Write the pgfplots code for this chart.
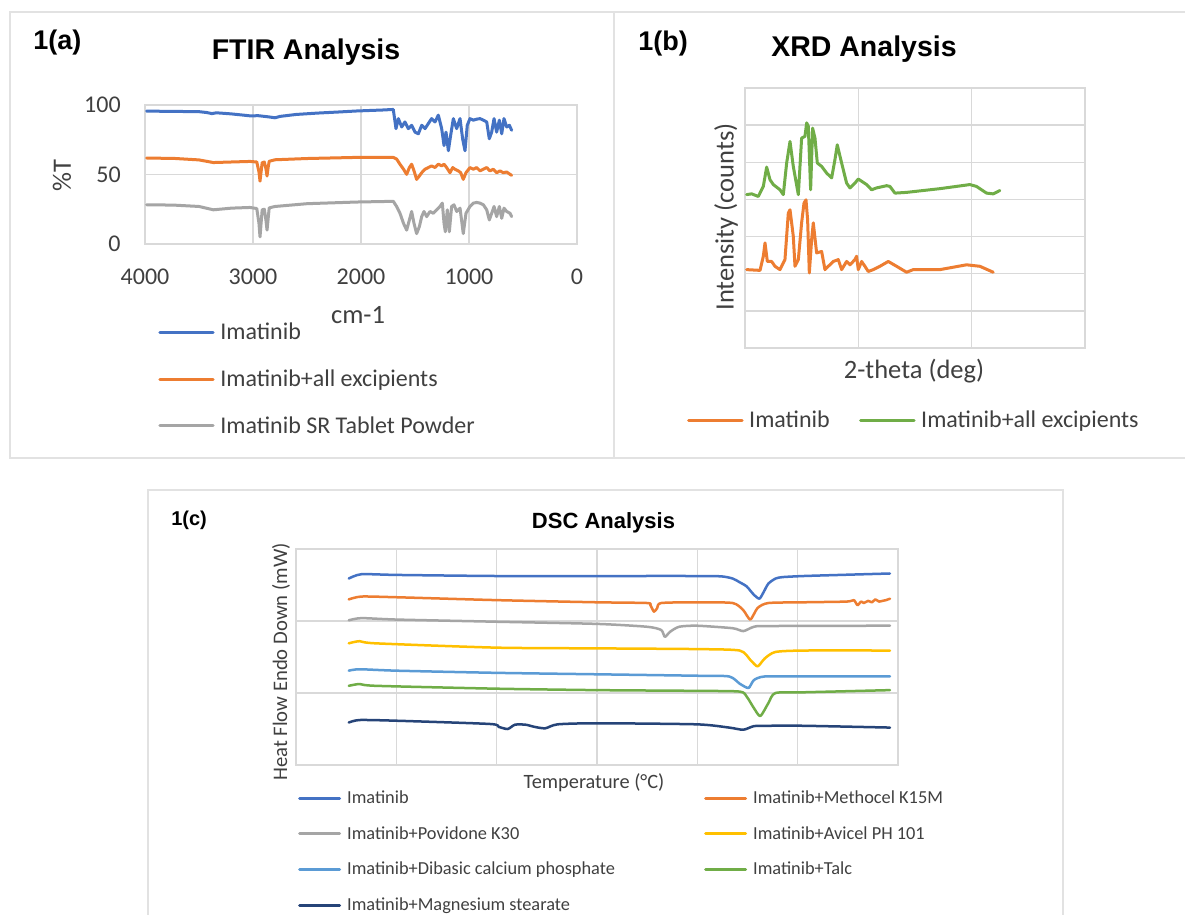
\documentclass[border=0pt]{standalone}
\usepackage{pgfplots}
\pgfplotsset{compat=1.18}
\usepackage{fontspec}
\setmainfont{Carlito}
\newfontfamily\arialf{Liberation Sans}
\definecolor{cblue}{HTML}{4472C4}
\definecolor{corange}{HTML}{ED7D31}
\definecolor{cgray}{HTML}{A5A5A5}
\definecolor{cyellow}{HTML}{FFC000}
\definecolor{clblue}{HTML}{5B9BD5}
\definecolor{cgreen}{HTML}{70AD47}
\definecolor{cnavy}{HTML}{264478}
\definecolor{gridc}{HTML}{D9D9D9}
\definecolor{borderc}{HTML}{E2E2E2}
\definecolor{txt}{HTML}{404040}
\pgfplotsset{
  excelaxis/.style={
    scale only axis, anchor=south west,
    grid=major, major tick length=0pt,
    grid style={draw=gridc, line width=0.9pt},
    axis line style={draw=gridc, line width=0.9pt},
    /pgf/number format/assume math mode=true,
    /pgf/number format/1000 sep={},
    legend cell align=left,
  },
}
\begin{document}
\begin{tikzpicture}
\path[use as bounding box] (0pt,0pt) rectangle (711pt,-548.4pt);
\begin{scope}[x=0.6pt,y=-0.6pt]
\fill[white] (0,0) rectangle (1185,914);
\draw[borderc, line width=1.4pt] (10,12) rectangle (614,458);
\draw[borderc, line width=1.4pt] (614,12) -- (1200,12);
\draw[borderc, line width=1.4pt] (614,458) -- (1200,458);
\draw[borderc, line width=1.4pt] (148,930) -- (148,490) -- (1063,490) -- (1063,930);
% titles
\node[anchor=base west, inner sep=0pt] at (33,49.5) {\arialf\bfseries\fontsize{16.2}{18}\selectfont 1(a)};
\node[anchor=base, inner sep=0pt] at (306,60) {\arialf\bfseries\fontsize{17.1}{19}\selectfont FTIR Analysis};
\node[anchor=base west, inner sep=0pt] at (638,50) {\arialf\bfseries\fontsize{16.2}{18}\selectfont 1(b)};
\node[anchor=base, inner sep=0pt] at (864,56.7) {\arialf\bfseries\fontsize{17.1}{19}\selectfont XRD Analysis};
\node[anchor=base west, inner sep=0pt] at (171,525) {\arialf\bfseries\fontsize{12}{14}\selectfont 1(c)};
\node[anchor=base, inner sep=0pt] at (603.5,528) {\arialf\bfseries\fontsize{13.2}{15}\selectfont DSC Analysis};
% axis titles
\node[anchor=base, inner sep=0pt, text=txt] at (358,323) {\fontsize{15.9}{18}\selectfont cm-1};
\node[rotate=90, inner sep=0pt, text=txt] at (62,176) {\fontsize{15.9}{18}\selectfont \%T};
\node[anchor=base, inner sep=0pt, text=txt] at (914,378) {\fontsize{15.9}{18}\selectfont 2-theta (deg)};
\node[rotate=90, inner sep=0pt, text=txt] at (726,217) {\fontsize{15.9}{18}\selectfont Intensity (counts)};
\node[anchor=base, inner sep=0pt, text=txt] at (594,788) {\fontsize{12.2}{14}\selectfont Temperature (°C)};
\node[rotate=90, inner sep=0pt, text=txt] at (281,662) {\fontsize{12.4}{14}\selectfont Heat Flow Endo Down (mW)};
\end{scope}

% ---------------- FTIR ----------------
\begin{axis}[excelaxis,
  at={(87pt,-146.4pt)}, width=259.2pt, height=83.4pt,
  xmin=0, xmax=4000, ymin=0, ymax=100, x dir=reverse,
  xtick={0,1000,2000,3000,4000}, ytick={0,50,100},
  ticklabel style={font=\fontsize{14.4}{17}\selectfont, text=txt},
  xticklabel style={anchor=base, inner sep=0pt, yshift=-24pt},
  yticklabel style={anchor=east, inner sep=0pt, xshift=-14.4pt},
  legend style={draw=none, fill=none, at={(0.030,-0.566)}, anchor=north west,
    font=\fontsize{14.4}{17}\selectfont, text=txt, row sep=16.5pt, column sep=3.4pt,
    inner sep=0pt, nodes={inner sep=0pt}},
  legend image code/.code={\draw[#1] (0pt,0pt) -- (32pt,0pt);},
  every axis plot/.append style={line width=1.8pt, line join=round, line cap=round},
]
\addplot[cblue] coordinates {(3985,95.6)(3738,95.4)(3500,95.2)(3429,94.6)(3380,93.8)(3340,94.4)(3200,93.6)(3100,92.8)(3028,92.2)(2950,92.3)(2860,91.5)(2796,90.8)(2750,91.8)(2600,93.2)(2400,94.2)(2200,95.0)(2040,95.7)(1800,96.4)(1701,96.8)(1676,83.0)(1654,90.2)(1623,84.2)(1593,87.8)(1562,83.0)(1531,85.4)(1500,80.5)(1469,79.3)(1438,85.4)(1407,83.0)(1377,86.6)(1346,90.2)(1315,87.8)(1284,92.7)(1253,83.0)(1231,70.8)(1213,80.5)(1191,67.1)(1170,78.1)(1145,90.2)(1114,83.0)(1083,90.2)(1059,75.7)(1037,67.1)(1016,85.4)(991,90.2)(960,89.1)(929,89.8)(898,90.2)(867,89.1)(836,87.8)(812,75.7)(790,80.5)(768,90.2)(744,80.5)(719,89.1)(697,79.3)(676,90.2)(651,84.2)(626,85.4)(605,81.8)};
\addlegendentry{Imatinib}
\addplot[corange] coordinates {(3985,61.8)(3738,61.6)(3500,60.5)(3367,58.6)(3200,59.0)(3028,59.4)(2965,59.0)(2945,52)(2935,45.2)(2925,52)(2915,58.5)(2895,59.0)(2880,54)(2870,48.9)(2860,55)(2850,59.5)(2796,60.6)(2500,61.5)(2040,62.3)(1701,62.3)(1670,61.1)(1639,57.4)(1606,53.8)(1577,50.1)(1552,55.0)(1531,57.4)(1509,52.6)(1485,46.5)(1460,48.9)(1438,51.3)(1407,53.8)(1377,55.0)(1346,56.2)(1315,55.0)(1284,57.4)(1253,56.2)(1231,57.4)(1207,55.0)(1176,51.3)(1151,55.0)(1130,53.8)(1099,52.6)(1077,51.3)(1053,46.5)(1028,51.3)(991,55.0)(960,53.8)(929,55.0)(898,52.6)(867,53.8)(836,55.0)(806,52.6)(775,53.8)(744,51.3)(713,52.6)(682,51.3)(651,51.8)(620,50.1)(605,49.4)};
\addlegendentry{Imatinib+all excipients}
\addplot[cgray] coordinates {(3985,28.2)(3738,28.0)(3500,27.0)(3367,24.6)(3200,25.8)(3028,26.3)(2965,25.5)(2945,15)(2935,5.1)(2925,15)(2915,24.6)(2895,25.0)(2880,17)(2870,10.0)(2860,18)(2850,26.0)(2796,27.0)(2500,29.0)(2040,30.2)(1701,30.7)(1670,27.0)(1639,22.1)(1606,14.8)(1577,10.0)(1552,17.3)(1531,23.4)(1509,14.8)(1485,7.5)(1460,12.4)(1438,19.7)(1417,23.4)(1392,19.7)(1361,23.4)(1330,22.1)(1300,24.6)(1269,27.0)(1247,29.4)(1231,14.8)(1219,8.8)(1201,24.6)(1182,8.8)(1161,27.0)(1139,28.2)(1114,23.4)(1083,25.8)(1053,7.5)(1028,22.1)(991,27.0)(960,29.4)(929,29.9)(898,29.4)(867,28.2)(836,24.6)(812,17.3)(790,22.1)(768,27.0)(744,19.7)(719,27.0)(697,18.5)(676,25.8)(651,23.4)(620,22.1)(605,19.7)};
\addlegendentry{Imatinib SR Tablet Powder}
\end{axis}

% ---------------- XRD ----------------
\begin{axis}[excelaxis,
  at={(447pt,-208.8pt)}, width=204pt, height=156pt,
  xmin=0, xmax=60, ymin=0, ymax=7000,
  xtick={0,20,40,60}, ytick={0,1000,...,7000},
  xticklabels={}, yticklabels={},
  legend columns=-1,
  legend style={draw=none, fill=none, at={(-0.171,-0.240)}, anchor=north west,
    font=\fontsize{14.4}{17}\selectfont, text=txt, column sep=3.4pt,
    inner sep=0pt, nodes={inner sep=0pt}},
  legend image code/.code={\draw[#1] (0pt,0pt) -- (32pt,0pt);},
  every axis plot/.append style={line width=1.8pt, line join=round, line cap=round},
]
\addplot[corange] coordinates {(0.29,2110)(2.65,2090)(3.23,2470)(3.53,2830)(3.94,2330)(4.70,2330)(5.29,2200)(6.17,2110)(7.05,2380)(7.64,3630)(7.94,3720)(8.52,3010)(8.82,2200)(9.41,2380)(9.99,3370)(10.41,3900)(10.76,3990)(11.05,3450)(11.35,2020)(11.76,2920)(12.05,3370)(12.64,2560)(13.52,2600)(14.11,2110)(14.70,2200)(15.58,2330)(16.46,2380)(17.05,2110)(17.93,2330)(18.52,2240)(19.40,2380)(19.69,2470)(19.99,2110)(20.58,2330)(21.16,2200)(21.75,2060)(22.63,2110)(23.81,2200)(25.28,2330)(26.75,2200)(28.51,2040)(29.69,2110)(34.39,2110)(39.09,2240)(41.45,2200)(43.80,2040)};
\addlegendentry{\makebox[62.6pt][l]{Imatinib}}
\addplot[cgreen] coordinates {(0.29,4130)(1.18,4150)(2.35,4080)(3.23,4350)(3.82,4870)(4.41,4530)(5.0,4400)(6.17,4260)(6.76,4130)(7.35,4980)(7.94,5560)(8.52,4890)(9.41,4130)(9.99,5650)(10.58,5700)(10.88,6060)(11.17,5970)(11.58,4260)(11.93,5920)(12.35,5650)(12.76,4980)(13.52,4890)(14.40,4710)(15.29,4580)(15.87,5070)(16.28,5470)(17.05,4980)(17.93,4440)(18.52,4310)(19.40,4440)(19.99,4550)(21.46,4400)(22.34,4260)(23.22,4310)(24.99,4370)(25.57,4350)(26.46,4170)(28.51,4190)(34.39,4290)(39.68,4400)(40.86,4350)(42.62,4170)(43.80,4150)(44.97,4240)};
\addlegendentry{Imatinib+all excipients}
\end{axis}

% ---------------- DSC ----------------
\begin{axis}[excelaxis,
  at={(177.6pt,-459pt)}, width=361.2pt, height=129.6pt,
  xmin=0, xmax=300, ymin=0, ymax=3,
  xtick={0,50,...,300}, ytick={0,1,2,3},
  xticklabels={}, yticklabels={},
  legend columns=2,
  legend style={draw=none, fill=none, at={(0.003,-0.116)}, anchor=north west,
    font=\fontsize{11}{13}\selectfont, text=txt, row sep=12.4pt, column sep=3.6pt,
    inner sep=0pt, nodes={inner sep=0pt}},
  legend image code/.code={\draw[#1, line width=1.8pt] (0pt,0pt) -- (24pt,0pt);},
  every axis plot/.append style={line width=1.5pt, line join=round, line cap=round, smooth, tension=0.4},
]
\addplot[cblue] coordinates {(26.3,2.59)(32.6,2.65)(50.3,2.64)(100,2.625)(150,2.625)(199.7,2.625)(212,2.62)(217.6,2.59)(221,2.54)(224.6,2.48)(228,2.37)(230.9,2.31)(233,2.40)(235.4,2.52)(239,2.59)(242.5,2.61)(253,2.625)(271,2.64)(296,2.66)};
\addlegendentry{\makebox[210.6pt][l]{Imatinib}}
\addplot[corange] coordinates {(26.3,2.30)(32.6,2.34)(50.3,2.33)(100,2.29)(150,2.26)(174.9,2.25)(176.6,2.22)(178.4,2.13)(180,2.18)(182,2.25)(199.7,2.26)(217.6,2.25)(222.9,2.15)(226.4,2.02)(230,2.18)(235.4,2.25)(253.1,2.26)(274.5,2.27)(278,2.29)(279.8,2.22)(281.6,2.27)(283,2.25)(285.1,2.28)(287,2.26)(288.7,2.30)(290.5,2.27)(292.3,2.28)(294,2.29)(296,2.31)};
\addlegendentry{Imatinib+Methocel K15M}
\addplot[cgray] coordinates {(26.3,2.01)(32.6,2.04)(50.3,2.02)(100,1.99)(150,1.96)(175,1.92)(182,1.875)(183.8,1.78)(186.4,1.85)(190.9,1.92)(199.7,1.935)(217.6,1.90)(222.9,1.86)(228.2,1.92)(235.4,1.93)(296,1.935)};
\addlegendentry{\makebox[210.6pt][l]{Imatinib+Povidone K30}}
\addplot[cyellow] coordinates {(26.3,1.69)(31.7,1.72)(39.7,1.69)(100,1.63)(150,1.62)(199.7,1.61)(221.1,1.59)(226.4,1.46)(230,1.37)(233.6,1.48)(238.9,1.57)(253.1,1.59)(296,1.59)};
\addlegendentry{Imatinib+Avicel PH 101}
\addplot[clblue] coordinates {(26.3,1.31)(31.7,1.33)(50.3,1.31)(100,1.28)(150,1.26)(199.7,1.24)(215.8,1.23)(221.1,1.13)(225.5,1.07)(228.2,1.18)(233.6,1.23)(253.1,1.23)(296,1.23)};
\addlegendentry{\makebox[210.6pt][l]{Imatinib+Dibasic calcium phosphate}}
\addplot[cgreen] coordinates {(26.3,1.10)(31.7,1.125)(39.7,1.10)(100,1.06)(150,1.04)(199.7,1.03)(221.1,1.02)(224.6,0.95)(228.2,0.79)(231.4,0.68)(235.4,0.86)(238.9,1.0)(253.1,1.01)(296,1.04)};
\addlegendentry{Imatinib+Talc}
\addplot[cnavy] coordinates {(26.3,0.59)(31.7,0.625)(50.3,0.615)(96.6,0.57)(101,0.53)(105.5,0.50)(109.1,0.56)(114.4,0.56)(118.8,0.53)(124.2,0.51)(130.4,0.565)(150,0.58)(199.7,0.565)(215.8,0.52)(222.9,0.49)(228.2,0.54)(235.4,0.545)(253.1,0.545)(296,0.52)};
\addlegendentry{\makebox[210.6pt][l]{Imatinib+Magnesium stearate}}
\end{axis}
\end{tikzpicture}
\end{document}
